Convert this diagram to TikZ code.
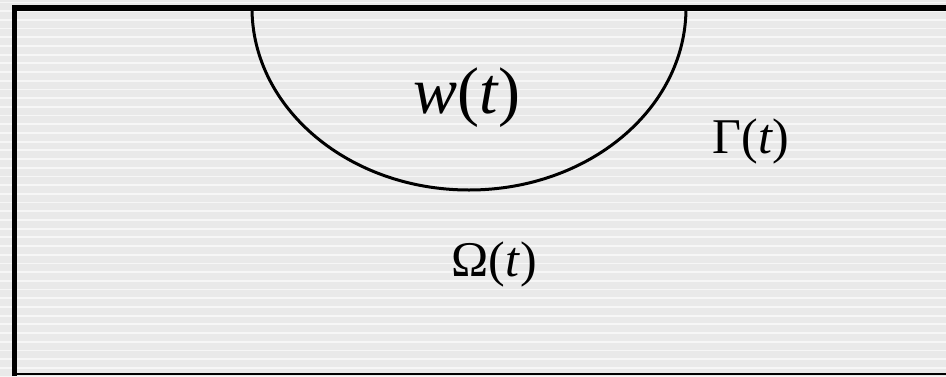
\documentclass[tikz,border=0pt]{standalone}
\usepackage{fontspec}
\setmainfont{Liberation Serif}
\usepackage{tikz}
\usetikzlibrary{positioning}

\definecolor{bggray}{RGB}{233,233,233}
\definecolor{stripe}{RGB}{246,246,246}

\begin{document}
\begin{tikzpicture}[x=1pt, y=-1pt,
  frame/.style = {line width=5.5pt, line cap=butt},
  bowl/.style = {line width=3pt},
  biglabel/.style = {font=\fontsize{66}{66}\selectfont, inner sep=0pt},
  label/.style = {font=\fontsize{50}{50}\selectfont, inner sep=0pt}
]
\useasboundingbox (0,0) rectangle (946,376);
\clip (0,0) rectangle (946,376);

% background stripes
\fill[bggray] (0,0) rectangle (946,376);
\foreach \k in {0,...,43}
  \fill[stripe] (0,{1.5+8.7*\k}) rectangle (946,{3.3+8.7*\k});

% outer frame, open on the right
\draw[frame] (14.5,376) -- (14.5,8) -- (946,8);
\draw[line width=2pt] (14.5,373.7) -- (946,373.7);

% the half disc w(t)
\coordinate (wl) at (252,8);
\draw[bowl] (wl) arc[start angle=180, end angle=0, x radius=217, y radius=182];

\node[biglabel] (w) at (467,98) {\textit{w}(\textit{t})};
\node[label] (gamma) at (751,141) {Γ(\textit{t})};
\node[label] (omega) at (494,264) {Ω(\textit{t})};
\end{tikzpicture}
\end{document}
